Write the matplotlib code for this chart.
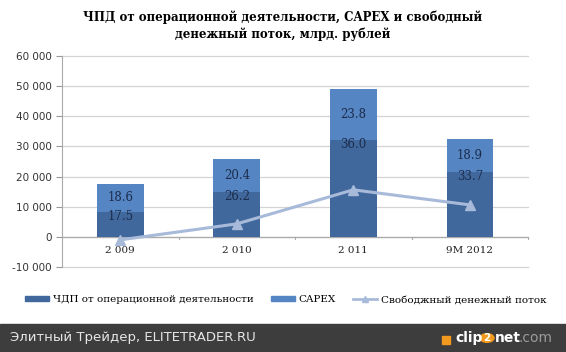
import matplotlib
matplotlib.use("Agg")
import matplotlib.pyplot as plt
from matplotlib.patches import Rectangle, Patch, Circle
from matplotlib.lines import Line2D
from matplotlib.ticker import FuncFormatter

# data
categories = ["2 009", "2 010", "2 011", "9M 2012"]
ocf = [8300, 15000, 32100, 21600]
capex = [9300, 10700, 16900, 10700]
fcf = [-1000, 4300, 15600, 10600]
ocf_labels = ["17.5", "26.2", "36.0", "33.7"]
capex_labels = ["18.6", "20.4", "23.8", "18.9"]

dark = "#41689C"
light = "#5585C2"
line_c = "#A8BADA"
lab_c = "#1C2C4C"

W, H = 566, 352
fig = plt.figure(figsize=(5.66, 3.52), dpi=100)
ax = fig.add_axes([0.1095, 0.2415, 0.8235, 0.5995])

x = list(range(len(categories)))
ax.bar(x, ocf, width=0.4, color=dark, zorder=2)
ax.bar(x, capex, width=0.4, bottom=ocf, color=light, zorder=2)
ax.plot(x, fcf, color=line_c, lw=2.2, marker="^", ms=7, zorder=3)

for i in x:
    ax.text(i, ocf[i] + capex[i] / 2, capex_labels[i], ha="center", va="center",
            fontsize=8.5, family="DejaVu Serif", color=lab_c, zorder=4)
    ax.text(i, ocf[i] - 1500, ocf_labels[i], ha="center", va="center",
            fontsize=8.5, family="DejaVu Serif", color=lab_c, zorder=4)
    ax.text(i, -4400, categories[i], ha="center", va="center",
            fontsize=7.5, family="DejaVu Serif", color="#222222")

ax.set_xlim(-0.5, 3.5)
ax.set_ylim(-10000, 60000)
ax.set_yticks(range(-10000, 60001, 10000))
ax.yaxis.set_major_formatter(FuncFormatter(lambda v, p: f"{int(v):,}".replace(",", " ")))
ax.tick_params(axis="y", labelsize=7.5, colors="#333333", length=4, color="#999999")
ax.set_xticks([])
for v in range(-10000, 60001, 10000):
    ax.axhline(v, color="#D4D4D4", lw=0.9, zorder=0, clip_on=False)
for s in ["top", "right", "bottom"]:
    ax.spines[s].set_visible(False)
ax.spines["left"].set_color("#AAAAAA")
ax.axhline(0, color="#AAAAAA", lw=0.9, zorder=1)
for b in [0.5, 1.5, 2.5, 3.5]:
    ax.plot([b, b], [0, -700], color="#AAAAAA", lw=0.8, clip_on=False)

fig.text(0.5, 1 - 26 / H, "ЧПД от операционной деятельности, CAPEX и свободный\nденежный поток, млрд. рублей",
         ha="center", va="center", fontsize=8.5, fontweight="bold", family="DejaVu Serif",
         linespacing=1.3)

handles = [Patch(color=dark), Patch(color=light),
           Line2D([], [], color=line_c, lw=2, marker="^", ms=5)]
names = ["ЧДП от операционной деятельности", "CAPEX", "Свободжный денежный поток"]
fig.legend(handles, names, loc="center", bbox_to_anchor=(0.505, 1 - 300 / H), ncol=3, frameon=False,
           prop={"family": "DejaVu Serif", "size": 7.5}, handlelength=2.3, handleheight=0.35,
           columnspacing=1.6, handletextpad=0.4)

# footer band
fy = 14 / H
fig.patches.append(Rectangle((0, 0), 1, 28 / H, transform=fig.transFigure,
                             color="#3D3D3D", zorder=0))
fig.text(0.018, fy, "Элитный Трейдер, ELITETRADER.RU", ha="left", va="center",
         fontsize=9.5, color="#E6E6E6", family="DejaVu Sans")
# clip2net logo
fig.patches.append(Rectangle((442 / W, 8 / H), 8 / W, 8 / H, transform=fig.transFigure,
                             color="#F29A1D"))
fig.text(455 / W, fy, "clip", ha="left", va="center", fontsize=10, fontweight="bold",
         color="white", family="DejaVu Sans")
fig.patches.append(Circle((487 / W, fy), 7 / W, transform=fig.transFigure, color="#F29A1D"))
fig.text(487 / W, fy, "2", ha="center", va="center", fontsize=7.5, fontweight="bold", color="white")
fig.text(495 / W, fy, "net", ha="left", va="center", fontsize=10, fontweight="bold",
         color="white", family="DejaVu Sans")
fig.text(519 / W, fy, ".com", ha="left", va="center", fontsize=10, color="#9A9A9A",
         family="DejaVu Sans")

fig.savefig("out.png", dpi=100)
